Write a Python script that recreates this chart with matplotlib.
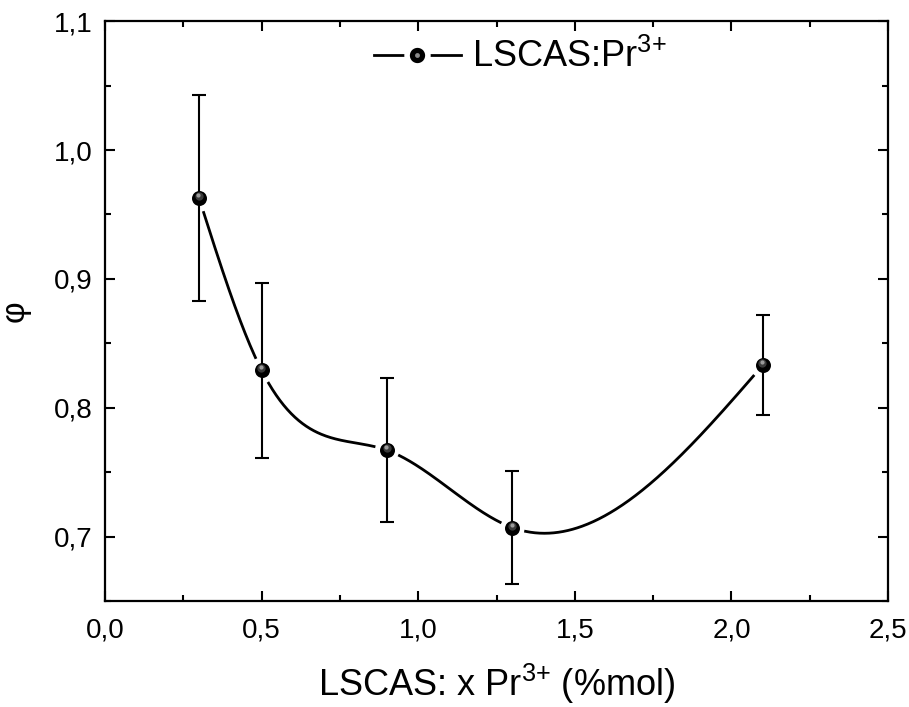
#!/usr/bin/env python3
'''phi vs Pr3+ concentration, LSCAS glass'''

import numpy as np
import matplotlib
matplotlib.use('Agg')

import matplotlib.pyplot as plt
from matplotlib.ticker import MultipleLocator, FuncFormatter
from matplotlib.transforms import offset_copy
from matplotlib.legend_handler import HandlerTuple

# concentration (%mol)
conc = [0.3, 0.5, 0.9, 1.3, 2.1]
# quantum efficiency phi
phi = [0.963, 0.829, 0.767, 0.707, 0.833]
# error bars
phi_err = [0.080, 0.068, 0.056, 0.044, 0.039]

legend_label = r"LSCAS:Pr$^{\text{3+}}$"
x_label = r"LSCAS: x Pr$^{\text{3+}}$ (%mol)"
y_label = "φ"


def natural_spline(x, y, xs):
    # natural cubic spline, like the origin smooth line
    x = np.asarray(x, float)
    y = np.asarray(y, float)
    n = len(x)
    h = np.diff(x)
    A = np.zeros((n, n))
    b = np.zeros(n)
    A[0, 0] = 1
    A[-1, -1] = 1
    for i in range(1, n - 1):
        A[i, i - 1] = h[i - 1]
        A[i, i] = 2 * (h[i - 1] + h[i])
        A[i, i + 1] = h[i]
        b[i] = 3 * ((y[i + 1] - y[i]) / h[i] - (y[i] - y[i - 1]) / h[i - 1])
    c = np.linalg.solve(A, b)
    out = np.empty_like(xs)
    for k, xv in enumerate(xs):
        i = min(max(np.searchsorted(x, xv) - 1, 0), n - 2)
        dx = xv - x[i]
        bi = (y[i + 1] - y[i]) / h[i] - h[i] * (2 * c[i] + c[i + 1]) / 3
        di = (c[i + 1] - c[i]) / (3 * h[i])
        out[k] = y[i] + bi * dx + c[i] * dx ** 2 + di * dx ** 3
    return out


def ball(ax, x, y, ms, fig):
    # black ball with a grey shine, origin style
    ax.plot(x, y, 'o', color='black', ms=ms, markeredgewidth=0, zorder=4)
    t1 = offset_copy(ax.transData, fig=fig, x=-0.3, y=2.0, units='dots')
    ax.plot(x, y, 'o', color='#3a3a3a', ms=ms * 0.55, markeredgewidth=0,
            zorder=5, transform=t1)
    t2 = offset_copy(ax.transData, fig=fig, x=-0.5, y=3.0, units='dots')
    ax.plot(x, y, 'o', color='#9a9a9a', ms=ms * 0.28, markeredgewidth=0,
            zorder=6, transform=t2)


def main():
    plt.rcParams['font.family'] = ['Liberation Sans', 'DejaVu Sans']
    plt.rcParams['mathtext.fontset'] = 'custom'
    plt.rcParams['mathtext.rm'] = 'Liberation Sans'
    plt.rcParams['mathtext.it'] = 'Liberation Sans'

    fig = plt.figure(figsize=(9.09, 7.07), dpi=100)
    ax = fig.add_axes([0.1155, 0.150, 0.8615, 0.820])

    ax.set_xlim(0, 2.5)
    ax.set_ylim(0.65, 1.1)

    # smooth line with little gaps around the balls
    xs = np.linspace(conc[0], conc[-1], 600)
    ys = natural_spline(conc, phi, xs)
    fig.canvas.draw()
    pts = ax.transData.transform(np.column_stack([xs, ys]))
    ctr = ax.transData.transform(np.column_stack([conc, phi]))
    ys_gap = ys.copy()
    for c in ctr:
        d = np.hypot(pts[:, 0] - c[0], pts[:, 1] - c[1])
        ys_gap[d < 13] = np.nan
    ax.plot(xs, ys_gap, color='black', lw=2.0, zorder=2)

    ax.errorbar(conc, phi, yerr=phi_err, fmt='none', ecolor='black',
                elinewidth=1.5, capsize=5, capthick=1.5, zorder=3)
    ball(ax, conc, phi, 10.8, fig)

    # legend handle: line - gap - ball - gap - line
    h_line, = ax.plot([], [], '-', color='black', lw=2.0)
    h_ball, = ax.plot([], [], 'o', color='black', ms=15,
                      markeredgecolor='white', markeredgewidth=4)
    h_shine, = ax.plot([], [], 'o', color='#8a8a8a', ms=3.5,
                       markeredgewidth=0)
    ax.legend([(h_line, h_ball, h_shine)], [legend_label],
              handler_map={tuple: HandlerTuple(ndivide=1, pad=0)},
              loc='upper center', bbox_to_anchor=(0.53, 1.025),
              frameon=False, fontsize=26,
              handlelength=2.4, handletextpad=0.3)

    ax.xaxis.set_major_locator(MultipleLocator(0.5))
    ax.xaxis.set_minor_locator(MultipleLocator(0.25))
    ax.yaxis.set_major_locator(MultipleLocator(0.1))
    ax.yaxis.set_minor_locator(MultipleLocator(0.05))
    comma = FuncFormatter(lambda v, p: ('%.1f' % v).replace('.', ','))
    ax.xaxis.set_major_formatter(comma)
    ax.yaxis.set_major_formatter(comma)

    ax.tick_params(which='both', direction='in', top=True, right=True,
                   width=1.5, labelsize=20)
    ax.tick_params(which='major', length=7)
    ax.tick_params(axis='x', which='major', pad=12)
    ax.tick_params(axis='y', which='major', pad=9)
    ax.tick_params(which='minor', length=4)
    for s in ax.spines.values():
        s.set_linewidth(1.6)

    ax.set_xlabel(x_label, fontsize=26, labelpad=13)
    ax.set_ylabel(y_label, fontsize=24, labelpad=17)

    plt.savefig("out.png", dpi=100)


if __name__ == "__main__":
    main()
